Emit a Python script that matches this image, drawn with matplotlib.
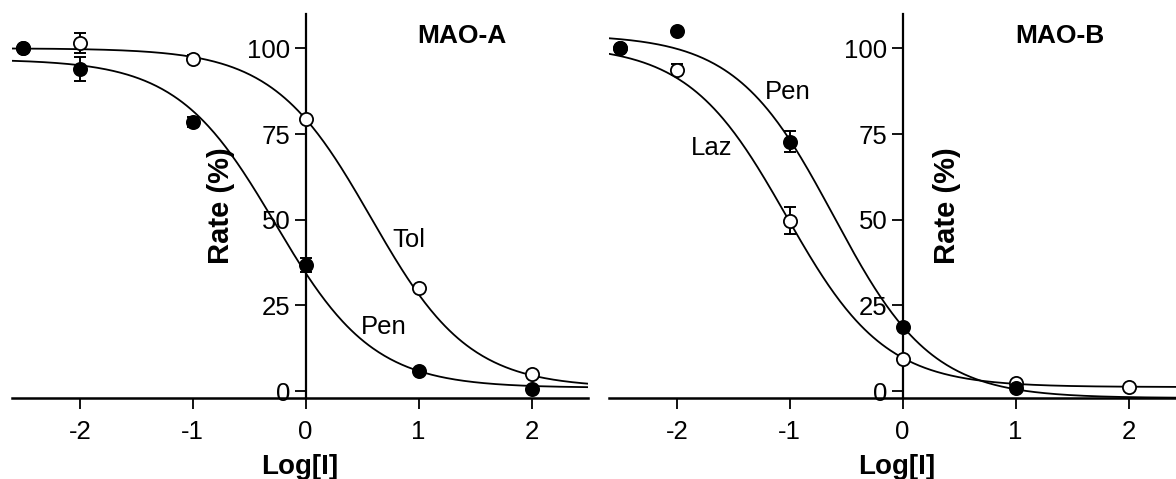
import matplotlib
matplotlib.use("Agg")
import matplotlib.pyplot as plt
import numpy as np

plt.rcParams["font.family"] = ["Liberation Sans", "DejaVu Sans"]
plt.rcParams["axes.unicode_minus"] = False

# MAO-A: tolcapone (open) and pentoxifylline-like inhibitor (filled)
a_tol_x = [-2.5, -2, -1, 0, 1, 2]
a_tol_y = [100, 101.5, 97, 79.5, 30, 5]
a_tol_err = [0, 3, 1, 0, 0, 0]
a_pen_x = [-2.5, -2, -1, 0, 1, 2]
a_pen_y = [100, 94, 78.6, 36.7, 6, 0.5]
a_pen_err = [0, 3.5, 1.5, 2, 0, 0]

# MAO-B
b_laz_x = [-2.5, -2, -1, 0, 1, 2]
b_laz_y = [100, 93.8, 49.7, 9.3, 2.5, 1.2]
b_laz_err = [0, 1.5, 4, 0, 0, 0]
b_pen_x = [-2.5, -2, -1, 0, 1]
b_pen_y = [100, 105, 72.8, 18.6, 1]
b_pen_err = [0, 0, 3, 0, 0]

# fitted dose-response parameters: top, bottom, logIC50, hill slope
fit_a_tol = (100, 1, 0.58, 1.0)
fit_a_pen = (96.8, 1, -0.27, 1.0)
fit_b_laz = (101, 1.2, -1.03, 1.0)
fit_b_pen = (104, -2, -0.61, 1.0)

yticks = [0, 25, 50, 75, 100]
xticks = [-2, -1, 0, 1, 2]
XLIM = (-2.6, 2.5)
YLIM = (-2, 110)


def sigmoid(x, top, bottom, logic50, hill):
    return bottom + (top - bottom) / (1 + 10 ** ((x - logic50) * hill))


def series(ax, x, y, err, fit, filled):
    xs = np.linspace(XLIM[0], XLIM[1], 400)
    ax.plot(xs, sigmoid(xs, *fit), color="black", lw=1.3, zorder=2)
    e = np.array(err, dtype=float)
    m = e > 0
    ax.errorbar(np.array(x)[m], np.array(y)[m], yerr=e[m], fmt="none",
                ecolor="black", elinewidth=1.4, capsize=4.5, capthick=1.4, zorder=3)
    ax.plot(x, y, "o", ms=9.5, mew=1.3, mec="black",
            mfc="black" if filled else "white", zorder=4, clip_on=False)


def style(ax):
    ax.set_xlim(*XLIM)
    ax.set_ylim(*YLIM)
    ax.spines["top"].set_visible(False)
    ax.spines["right"].set_visible(False)
    ax.spines["left"].set_position(("data", 0))
    ax.spines["left"].set_linewidth(1.6)
    ax.spines["bottom"].set_linewidth(1.8)
    ax.set_xticks(xticks)
    ax.set_yticks(yticks)
    ax.tick_params(axis="y", direction="out", length=8, width=1.3, pad=3, labelsize=18.5)
    ax.tick_params(axis="x", direction="out", length=8, width=1.3, pad=8, labelsize=18.5)
    ax.set_xlabel("Log[I]", fontsize=20, fontweight="bold", labelpad=7)
    ax.patch.set_alpha(0)


fig = plt.figure(figsize=(11.76, 4.79), dpi=100)
W, H = 1176, 479
ax1 = fig.add_axes([12 / W, 81 / H, 576 / W, 384 / H])
ax2 = fig.add_axes([609 / W, 81 / H, 576 / W, 384 / H])

series(ax1, a_tol_x, a_tol_y, a_tol_err, fit_a_tol, filled=False)
series(ax1, a_pen_x, a_pen_y, a_pen_err, fit_a_pen, filled=True)
style(ax1)
ax1.text(1.38, 101.5, "MAO-A", fontsize=19, fontweight="bold", ha="center", va="baseline")
ax1.text(0.91, 41.9, "Tol", fontsize=18.5, ha="center", va="baseline")
ax1.text(0.69, 16.6, "Pen", fontsize=18.5, ha="center", va="baseline")
ax1.text(-0.75, 54, "Rate (%)", fontsize=21, fontweight="bold", rotation=90,
         ha="center", va="center")

series(ax2, b_laz_x, b_laz_y, b_laz_err, fit_b_laz, filled=False)
series(ax2, b_pen_x, b_pen_y, b_pen_err, fit_b_pen, filled=True)
style(ax2)
ax2.text(1.39, 101.5, "MAO-B", fontsize=19, fontweight="bold", ha="center", va="baseline")
ax2.text(-1.02, 85.2, "Pen", fontsize=18.5, ha="center", va="baseline")
ax2.text(-1.69, 69, "Laz", fontsize=18.5, ha="center", va="baseline")
ax2.text(0.39, 54, "Rate (%)", fontsize=21, fontweight="bold", rotation=90,
         ha="center", va="center")

fig.savefig("out.png", dpi=100)
